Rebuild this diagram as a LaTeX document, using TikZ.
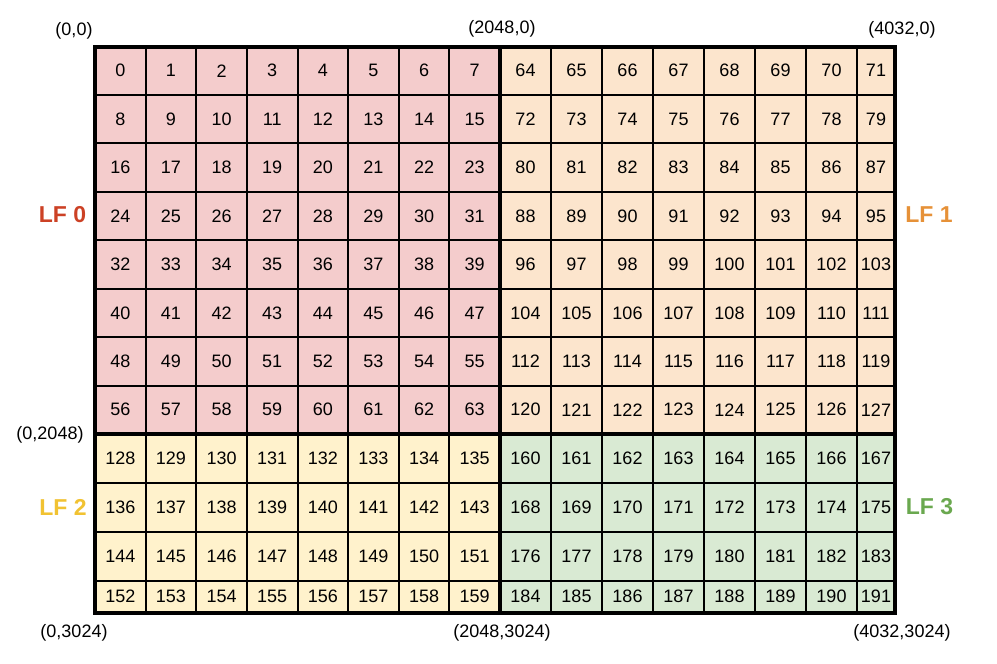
\documentclass[tikz,border=0pt]{standalone}
\usepackage{fontspec}
\setmainfont{Liberation Sans}
\definecolor{q0}{HTML}{F4CCCC}
\definecolor{q1}{HTML}{FCE5CD}
\definecolor{q2}{HTML}{FFF2CC}
\definecolor{q3}{HTML}{D9EAD3}
\definecolor{l0}{HTML}{CC4125}
\definecolor{l1}{HTML}{E69138}
\definecolor{l2}{HTML}{F1C232}
\definecolor{l3}{HTML}{6AA84F}
\begin{document}
\begin{tikzpicture}[x=1pt,y=-1pt,
  cellbox/.style={draw=black,line width=2pt},
  num/.style={inner sep=0pt,font=\fontsize{18}{21}\selectfont},
  corner/.style={inner sep=0pt,font=\fontsize{18}{21}\selectfont},
  lf/.style={inner sep=0pt,font=\fontsize{23}{26}\selectfont\bfseries},
  thick border/.style={draw=black,line width=4pt}]
\useasboundingbox (0,0) rectangle (997,664);
\def\xs{{95,145.625,196.25,246.875,297.5,348.125,398.75,449.375,500,551,602,653,704,755,806,857,895}}
\def\ys{{46.5,94.94,143.38,191.81,240.25,288.69,337.13,385.56,434,483,531.5,580.5,612.5}}
\foreach \r in {0,...,11}{
  \foreach \c in {0,...,15}{
    \pgfmathsetmacro\xa{\xs[\c]}
    \pgfmathsetmacro\xb{\xs[\c+1]}
    \pgfmathsetmacro\ya{\ys[\r]}
    \pgfmathsetmacro\yb{\ys[\r+1]}
    \pgfmathtruncatemacro\qi{(\r<8 ? 0 : 2) + (\c<8 ? 0 : 1)}
    \pgfmathtruncatemacro\n{(\r<8 ? (\c<8 ? 0 : 64) : (\c<8 ? 128 : 160)) + 8*mod(\r,8) + mod(\c,8)}
    \path[cellbox,fill=q\qi] (\xa,\ya) rectangle (\xb,\yb);
    \node[num] (n\n) at ({(\xa+\xb)/2},{(\ya+\yb)/2}) {\n};
  }
}
\coordinate (tl) at (95,46.5);
\coordinate (br) at (895,612.5);
\coordinate (mt) at (500,46.5);
\coordinate (mb) at (500,612.5);
\coordinate (ml) at (95,434);
\coordinate (mr) at (895,434);
\draw[thick border] (mt) -- (mb);
\draw[thick border] (ml) -- (mr);
\draw[thick border] (tl) rectangle (br);
\node[corner] (c00) at (74,31) {(0,0)};
\node[corner] (c20) at (502,29) {(2048,0)};
\node[corner] (c40) at (902,30) {(4032,0)};
\node[corner] (c02) at (50,435) {(0,2048)};
\node[corner] (c03) at (74,633) {(0,3024)};
\node[corner] (c23) at (502,633) {(2048,3024)};
\node[corner] (c43) at (902,633) {(4032,3024)};
\node[lf,text=l0] (lf0) at (62.5,215) {LF 0};
\node[lf,text=l1] (lf1) at (929,215) {LF 1};
\node[lf,text=l2] (lf2) at (63,507) {LF 2};
\node[lf,text=l3] (lf3) at (929.5,507) {LF 3};
\end{tikzpicture}
\end{document}
